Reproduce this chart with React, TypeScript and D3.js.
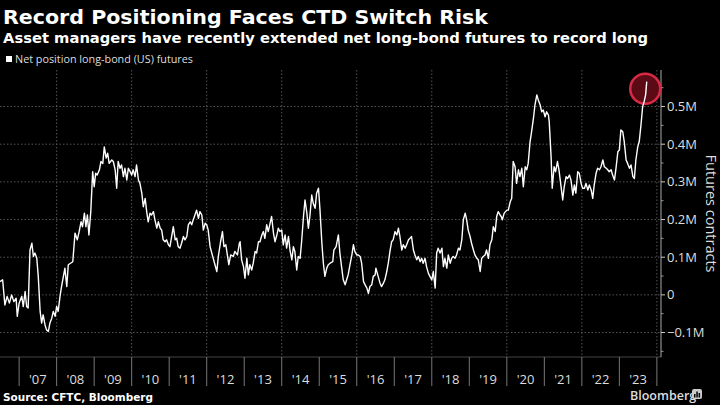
import React from "react";
import * as d3 from "d3";

const years: number[] = [
  2006.49, 2006.56, 2006.62, 2006.68, 2006.74, 2006.8, 2006.86, 2006.92, 2006.95, 2007.0, 2007.07, 2007.11, 2007.16, 2007.2, 2007.24,
  2007.29, 2007.34, 2007.38, 2007.42, 2007.47, 2007.51, 2007.56, 2007.6, 2007.64, 2007.69, 2007.73, 2007.78, 2007.82, 2007.87, 2007.91,
  2007.96, 2008.0, 2008.04, 2008.09, 2008.13, 2008.18, 2008.22, 2008.27, 2008.31, 2008.37, 2008.43, 2008.49, 2008.55, 2008.6, 2008.65,
  2008.69, 2008.74, 2008.78, 2008.82, 2008.86, 2008.91, 2008.96, 2009.0, 2009.04, 2009.08, 2009.14, 2009.18, 2009.23, 2009.27, 2009.32,
  2009.36, 2009.4, 2009.47, 2009.51, 2009.56, 2009.6, 2009.64, 2009.69, 2009.73, 2009.78, 2009.82, 2009.87, 2009.91, 2009.96, 2010.0,
  2010.04, 2010.09, 2010.13, 2010.18, 2010.22, 2010.27, 2010.31, 2010.36, 2010.4, 2010.44, 2010.49, 2010.53, 2010.58, 2010.62, 2010.67,
  2010.71, 2010.76, 2010.8, 2010.84, 2010.89, 2010.93, 2010.98, 2011.02, 2011.11, 2011.16, 2011.2, 2011.24, 2011.29, 2011.33, 2011.38,
  2011.42, 2011.47, 2011.51, 2011.56, 2011.6, 2011.64, 2011.73, 2011.78, 2011.82, 2011.87, 2011.91, 2011.96, 2012.0, 2012.04, 2012.09,
  2012.16, 2012.22, 2012.27, 2012.31, 2012.37, 2012.42, 2012.46, 2012.51, 2012.55, 2012.59, 2012.64, 2012.71, 2012.75, 2012.82, 2012.87,
  2012.89, 2012.93, 2012.98, 2013.02, 2013.07, 2013.11, 2013.15, 2013.2, 2013.24, 2013.29, 2013.33, 2013.38, 2013.42, 2013.47, 2013.51,
  2013.55, 2013.6, 2013.64, 2013.69, 2013.73, 2013.78, 2013.82, 2013.87, 2013.91, 2013.95, 2014.0, 2014.04, 2014.09, 2014.13, 2014.18,
  2014.22, 2014.27, 2014.31, 2014.35, 2014.4, 2014.44, 2014.49, 2014.53, 2014.58, 2014.62, 2014.67, 2014.71, 2014.75, 2014.8, 2014.84,
  2014.89, 2014.93, 2014.98, 2015.02, 2015.07, 2015.11, 2015.15, 2015.2, 2015.24, 2015.29, 2015.36, 2015.39, 2015.45, 2015.51, 2015.55,
  2015.6, 2015.64, 2015.69, 2015.73, 2015.77, 2015.82, 2015.87, 2015.91, 2015.95, 2016.0, 2016.04, 2016.09, 2016.13, 2016.18, 2016.22,
  2016.27, 2016.31, 2016.35, 2016.4, 2016.44, 2016.49, 2016.51, 2016.57, 2016.62, 2016.66, 2016.71, 2016.75, 2016.8, 2016.84, 2016.89,
  2016.93, 2016.97, 2017.02, 2017.07, 2017.11, 2017.15, 2017.2, 2017.24, 2017.29, 2017.33, 2017.38, 2017.42, 2017.46, 2017.51, 2017.55,
  2017.6, 2017.64, 2017.69, 2017.73, 2017.77, 2017.82, 2017.86, 2017.91, 2017.95, 2018.0, 2018.04, 2018.09, 2018.13, 2018.17, 2018.22,
  2018.27, 2018.31, 2018.35, 2018.4, 2018.44, 2018.49, 2018.53, 2018.57, 2018.62, 2018.66, 2018.71, 2018.75, 2018.8, 2018.84, 2018.89,
  2018.93, 2018.97, 2019.02, 2019.06, 2019.11, 2019.15, 2019.2, 2019.24, 2019.29, 2019.33, 2019.37, 2019.42, 2019.46, 2019.51, 2019.55,
  2019.6, 2019.64, 2019.69, 2019.73, 2019.77, 2019.82, 2019.85, 2019.88, 2019.93, 2020.0, 2020.04, 2020.09, 2020.13, 2020.17, 2020.22,
  2020.26, 2020.31, 2020.35, 2020.4, 2020.44, 2020.49, 2020.53, 2020.57, 2020.62, 2020.66, 2020.71, 2020.75, 2020.8, 2020.84, 2020.89,
  2020.93, 2020.97, 2021.02, 2021.06, 2021.11, 2021.13, 2021.18, 2021.21, 2021.26, 2021.3, 2021.35, 2021.39, 2021.44, 2021.49, 2021.53,
  2021.58, 2021.62, 2021.67, 2021.71, 2021.76, 2021.8, 2021.84, 2021.89, 2021.93, 2021.98, 2022.02, 2022.07, 2022.11, 2022.16, 2022.2,
  2022.25, 2022.29, 2022.33, 2022.38, 2022.42, 2022.47, 2022.51, 2022.56, 2022.6, 2022.65, 2022.69, 2022.73, 2022.78, 2022.82, 2022.87,
  2022.91, 2022.96, 2023.0, 2023.04, 2023.09, 2023.13, 2023.18, 2023.22, 2023.27, 2023.31, 2023.36, 2023.4, 2023.44, 2023.49, 2023.53,
  2023.58, 2023.62, 2023.66, 2023.7, 2023.73,
];

// Net position, thousands of contracts
const netPosition: number[] = [
  35, 40, -27, -4, -22, 0, -18, -9, -57, -22, -4, -31, 9, -31, -35,
  119, 137, 102, 111, 98, 49, -44, -75, -53, -80, -93, -97, -75, -62, -44,
  -57, -31, -44, -4, 22, 49, 71, 22, 80, 84, 88, 164, 146, 168, 194,
  181, 217, 181, 212, 159, 221, 327, 287, 323, 318, 332, 354, 349, 393, 363,
  376, 349, 358, 354, 332, 283, 354, 336, 345, 314, 336, 305, 336, 327, 318,
  332, 314, 345, 305, 296, 270, 234, 256, 221, 194, 217, 212, 221, 199, 177,
  194, 177, 172, 146, 141, 146, 133, 128, 181, 146, 150, 128, 124, 137, 155,
  146, 155, 186, 194, 186, 199, 225, 203, 221, 212, 172, 190, 186, 172, 128,
  102, 80, 62, 102, 141, 168, 128, 133, 106, 80, 106, 102, 115, 106, 137,
  141, 93, 75, 44, 97, 53, 80, 66, 84, 115, 111, 141, 141, 159, 168,
  150, 186, 168, 190, 208, 164, 141, 159, 177, 168, 172, 133, 159, 124, 155,
  119, 93, 128, 115, 66, 102, 97, 141, 208, 252, 217, 177, 208, 265, 243,
  230, 270, 283, 225, 137, 84, 49, 71, 80, 84, 88, 119, 128, 159, 111,
  71, 40, 27, 40, 53, 80, 106, 133, 115, 106, 106, 102, 84, 35, 27,
  18, 4, 22, 27, 49, 53, 71, 49, 31, 22, 31, 40, 62, 84, 119,
  141, 146, 168, 159, 177, 155, 119, 133, 124, 133, 146, 150, 155, 119, 106,
  93, 102, 88, 97, 84, 97, 75, 57, 49, 40, 62, 18, 111, 124, 111,
  124, 75, 97, 71, 106, 84, 97, 102, 97, 106, 124, 119, 146, 199, 217,
  199, 172, 155, 137, 119, 106, 97, 93, 62, 97, 102, 106, 119, 97, 133,
  146, 181, 168, 208, 221, 212, 208, 199, 217, 225, 225, 247, 256, 354, 340,
  296, 332, 314, 336, 287, 340, 332, 349, 407, 433, 469, 504, 531, 517, 504,
  486, 491, 473, 486, 477, 460, 367, 283, 340, 327, 354, 332, 292, 252, 287,
  314, 309, 318, 305, 265, 292, 270, 327, 323, 296, 283, 283, 296, 278, 292,
  278, 256, 292, 323, 336, 332, 340, 358, 340, 336, 332, 327, 332, 318, 305,
  336, 380, 385, 438, 433, 407, 358, 349, 336, 345, 314, 309, 358, 393, 407,
  455, 499, 513, 531, 566,
];

const yTicks: number[] = [-100, 0, 100, 200, 300, 400, 500];
const yMinorTicks: number[] = [-150, -50, 50, 150, 250, 350, 450, 550];
const yearBoundaries: number[] = d3.range(2007, 2025);
const yearLabels: string[] = ["'07", "'08", "'09", "'10", "'11", "'12", "'13", "'14", "'15", "'16", "'17", "'18", "'19", "'20", "'21", "'22", "'23"];

const W = 720;
const H = 405;
const plotTop = 70;
const plotBottom = 357;
const plotRight = 661;

const FONT = "'Open Sans', 'DejaVu Sans', sans-serif";
const HEAD_FONT = "'DejaVu Sans', 'Open Sans', sans-serif";

export default function App() {
  const x = d3.scaleLinear().domain([2006.49, 2024.11]).range([0, plotRight]);
  const y = d3.scaleLinear().domain([-165, 597]).range([plotBottom, plotTop]);

  const data = years.map((t, i) => ({ t, v: netPosition[i] }));
  const line = d3
    .line<{ t: number; v: number }>()
    .x((d) => x(d.t))
    .y((d) => y(d.v));

  const last = data[data.length - 1];
  const fmt = (v: number) => (v === 0 ? "0" : `${d3.format(".1f")(v / 1000)}M`);

  return (
    <svg
      width={W}
      height={H}
      style={{ position: "absolute", left: 0, top: 0, background: "#000" }}
      fontFamily={FONT}
    >
      <rect x={0} y={0} width={W} height={H} fill="#000" />
      <text x={3} y={24} fill="#fff" fontSize={20} fontWeight={700} fontFamily={HEAD_FONT} textLength={485} lengthAdjust="spacingAndGlyphs">
        Record Positioning Faces CTD Switch Risk
      </text>
      <text x={3} y={43} fill="#fff" fontSize={14.5} fontWeight={700} fontFamily={HEAD_FONT} textLength={645} lengthAdjust="spacingAndGlyphs">
        Asset managers have recently extended net long-bond futures to record long
      </text>
      <rect x={6} y={56} width={6} height={6} fill="#fff" />
      <text x={15} y={63} fill="#ddd" fontSize={10} textLength={178} lengthAdjust="spacingAndGlyphs">
        Net position long-bond (US) futures
      </text>

      {/* horizontal gridlines */}
      {yTicks.map((t) => (
        <line
          key={"hg" + t}
          x1={0}
          x2={plotRight}
          y1={y(t)}
          y2={y(t)}
          stroke="#555"
          strokeWidth={1}
          strokeDasharray="1.5,2"
        />
      ))}
      {/* vertical gridlines at even years */}
      {yearBoundaries
        .filter((yr) => yr % 2 === 0)
        .map((yr) => (
          <line
            key={"vg" + yr}
            x1={x(yr)}
            x2={x(yr)}
            y1={plotTop}
            y2={plotBottom}
            stroke="#555"
            strokeWidth={1}
            strokeDasharray="1.5,2"
          />
        ))}

      {/* x axis ticks */}
      <line x1={0} x2={plotRight} y1={plotBottom} y2={plotBottom} stroke="#444" strokeWidth={1} />
      {yearBoundaries.map((yr) => (
        <line key={"xt" + yr} x1={x(yr)} x2={x(yr)} y1={plotBottom} y2={386} stroke="#777" strokeWidth={1} />
      ))}
      {yearLabels.map((lab, i) => (
        <text
          key={"xl" + lab}
          x={(x(yearBoundaries[i]) + x(yearBoundaries[i + 1])) / 2}
          y={384}
          fill="#ddd"
          fontSize={13}
          textAnchor="middle"
        >
          {lab}
        </text>
      ))}

      {/* right y axis */}
      <line x1={plotRight} x2={plotRight} y1={plotTop} y2={plotBottom} stroke="#aaa" strokeWidth={1} />
      {yTicks.map((t) => (
        <g key={"yt" + t}>
          <line x1={plotRight} x2={plotRight + 4} y1={y(t)} y2={y(t)} stroke="#ccc" strokeWidth={1} />
          <text x={667} y={y(t) + 4.5} fill="#ddd" fontSize={13}>
            {fmt(t)}
          </text>
        </g>
      ))}
      {yMinorTicks.map((t) => (
        <line key={"ym" + t} x1={plotRight} x2={plotRight + 2.5} y1={y(t)} y2={y(t)} stroke="#999" strokeWidth={1} />
      ))}
      <text
        transform={`translate(706, ${(plotTop + plotBottom) / 2}) rotate(90)`}
        fill="#ddd"
        fontSize={14.5}
        textAnchor="middle"
      >
        Futures contracts
      </text>

      {/* annotation circle */}
      <circle
        cx={x(last.t) - 1.5}
        cy={y(last.v) + 7}
        r={15}
        fill="#5c0b16"
        stroke="#d92a45"
        strokeWidth={2.5}
      />

      {/* series */}
      <path d={line(data) || ""} fill="none" stroke="#fff" strokeWidth={1.4} strokeLinejoin="round" />

      {/* footer */}
      <text x={3} y={401} fill="#fff" fontSize={11} fontWeight={700} fontFamily={HEAD_FONT} textLength={150} lengthAdjust="spacingAndGlyphs">
        Source: CFTC, Bloomberg
      </text>
      <text x={630} y={400} fill="#ddd" fontSize={12.5} fontWeight={600}>
        Bloomberg
      </text>
      <rect x={692} y={389} width={10} height={10} rx={2} fill="#ccc" />
      <rect x={694} y={394} width={1.5} height={3.5} fill="#000" />
      <rect x={696.3} y={391.5} width={1.5} height={6} fill="#000" />
      <rect x={698.6} y={393} width={1.5} height={4.5} fill="#000" />
    </svg>
  );
}
